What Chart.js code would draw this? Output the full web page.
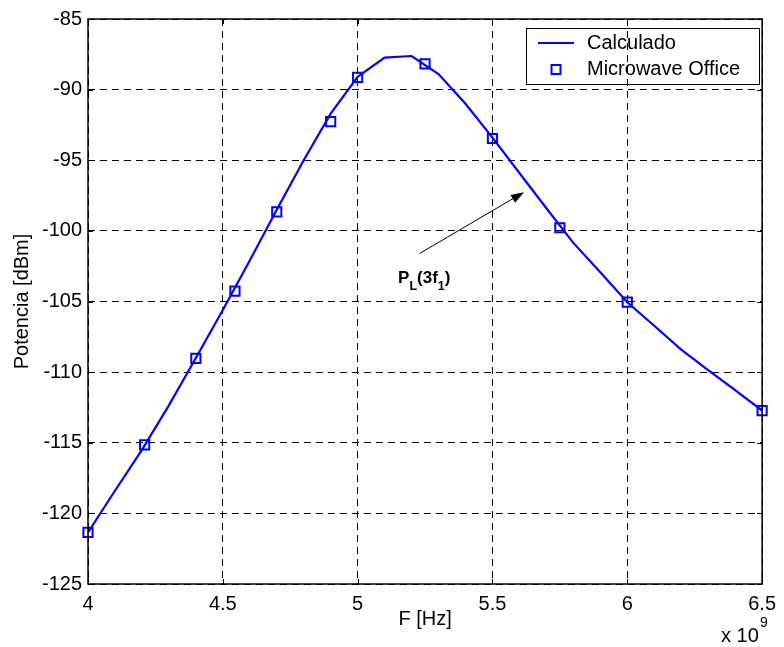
<!DOCTYPE html>
<html>
<head>
<meta charset="utf-8">
<script src="https://cdn.jsdelivr.net/npm/chart.js@4.4.1/dist/chart.umd.min.js"></script>
<style>
  body { margin: 0; background: #fff; }
  canvas { display: block; }
</style>
</head>
<body>
<canvas id="myChart" width="784" height="647"></canvas>
<script>
// calculated curve, sampled every 0.1 (x 10^9 Hz)
const freqCalc = [4.0, 4.1, 4.2, 4.3, 4.4, 4.5, 4.6, 4.7, 4.8, 4.9, 5.0, 5.1, 5.2,
                  5.3, 5.4, 5.5, 5.6, 5.7, 5.8, 5.9, 6.0, 6.1, 6.2, 6.3, 6.4, 6.5];
const potCalc = [-121.35, -118.4, -115.5, -112.35, -109.0, -105.6, -102.1, -98.5,
                 -95.0, -91.7, -89.1, -87.73, -87.62, -88.9, -91.0, -93.4, -95.9,
                 -98.4, -100.85, -102.93, -105.05, -106.72, -108.4, -109.85, -111.28, -112.72];

// Microwave Office simulation points
const freqMwo = [4.0, 4.21, 4.4, 4.545, 4.7, 4.9, 5.0, 5.25, 5.5, 5.75, 6.0, 6.5];
const potMwo = [-121.35, -115.15, -109.02, -104.27, -98.66, -92.27, -89.13, -88.18,
                -93.46, -99.78, -105.05, -112.72];

const xTicks = [4, 4.5, 5, 5.5, 6, 6.5];
const xTickLabels = ['4', '4.5', '5', '5.5', '6', '6.5'];
const yTicks = [-125, -120, -115, -110, -105, -100, -95, -90, -85];

// arrow for the P_L(3f_1) note, in data units
const arrowTail = [5.23, -101.6];
const arrowTip = [5.617, -97.26];
const noteAt = [5.15, -103.7];

const FONT = '"Liberation Sans", Arial, sans-serif';
const BLUE = '#0000ff';

const calcPoints = freqCalc.map((f, i) => ({ x: f, y: potCalc[i] }));
const mwoPoints = freqMwo.map((f, i) => ({ x: f, y: potMwo[i] }));

const decor = {
  id: 'decor',
  afterDraw(chart) {
    const ctx = chart.ctx;
    const a = chart.chartArea;
    const sx = chart.scales.x, sy = chart.scales.y;
    ctx.save();

    // box around the axes
    ctx.strokeStyle = '#000';
    ctx.lineWidth = 1.5;
    ctx.setLineDash([]);
    ctx.strokeRect(a.left, a.top, a.right - a.left, a.bottom - a.top);

    // small inward ticks on all four sides
    ctx.lineWidth = 1;
    ctx.beginPath();
    xTicks.forEach(v => {
      const px = Math.round(sx.getPixelForValue(v)) + 0.5;
      ctx.moveTo(px, a.bottom); ctx.lineTo(px, a.bottom - 5);
      ctx.moveTo(px, a.top); ctx.lineTo(px, a.top + 5);
    });
    yTicks.forEach(v => {
      const py = Math.round(sy.getPixelForValue(v)) + 0.5;
      ctx.moveTo(a.left, py); ctx.lineTo(a.left + 5, py);
      ctx.moveTo(a.right, py); ctx.lineTo(a.right - 5, py);
    });
    ctx.stroke();

    // axis titles
    ctx.fillStyle = '#000';
    ctx.font = '20px ' + FONT;
    ctx.textAlign = 'center';
    ctx.textBaseline = 'middle';
    ctx.fillText('F [Hz]', (a.left + a.right) / 2, 619);
    ctx.save();
    ctx.translate(22, (a.top + a.bottom) / 2);
    ctx.rotate(-Math.PI / 2);
    ctx.fillText('Potencia [dBm]', 0, 0);
    ctx.restore();

    // exponent of the x axis
    ctx.textAlign = 'left';
    ctx.fillText('x 10', 721, 636);
    ctx.font = '14px ' + FONT;
    ctx.fillText('9', 760, 623);

    // legend
    ctx.lineWidth = 1;
    ctx.strokeStyle = '#000';
    ctx.strokeRect(526.5, 28.5, 233, 56);
    ctx.strokeStyle = BLUE;
    ctx.lineWidth = 2;
    ctx.beginPath();
    ctx.moveTo(538, 43); ctx.lineTo(574, 43);
    ctx.stroke();
    ctx.strokeRect(551.5, 65, 9, 9);
    ctx.fillStyle = '#000';
    ctx.font = '20px ' + FONT;
    ctx.fillText('Calculado', 587, 43);
    ctx.fillText('Microwave Office', 587, 69.5);

    // arrow pointing at the curve
    const tx = sx.getPixelForValue(arrowTail[0]), ty = sy.getPixelForValue(arrowTail[1]);
    const hx = sx.getPixelForValue(arrowTip[0]), hy = sy.getPixelForValue(arrowTip[1]);
    const ang = Math.atan2(hy - ty, hx - tx);
    ctx.strokeStyle = '#000';
    ctx.lineWidth = 1;
    ctx.beginPath();
    ctx.moveTo(tx, ty);
    ctx.lineTo(hx - 10 * Math.cos(ang), hy - 10 * Math.sin(ang));
    ctx.stroke();
    ctx.beginPath();
    ctx.moveTo(hx, hy);
    ctx.lineTo(hx - 13 * Math.cos(ang) + 4.5 * Math.sin(ang), hy - 13 * Math.sin(ang) - 4.5 * Math.cos(ang));
    ctx.lineTo(hx - 13 * Math.cos(ang) - 4.5 * Math.sin(ang), hy - 13 * Math.sin(ang) + 4.5 * Math.cos(ang));
    ctx.closePath();
    ctx.fill();

    // P_L(3f_1) label with subscripts
    let nx = sx.getPixelForValue(noteAt[0]);
    const ny = sy.getPixelForValue(noteAt[1]);
    ctx.textBaseline = 'alphabetic';
    const parts = [['P', 0, 17], ['L', 7, 12.5], ['(3f', 0, 17], ['1', 7, 12.5], [')', 0, 17]];
    parts.forEach(([t, dy, size]) => {
      ctx.font = 'bold ' + size + 'px ' + FONT;
      ctx.fillText(t, nx, ny + dy);
      nx += ctx.measureText(t).width;
    });

    ctx.restore();
  }
};

var ctx = document.getElementById('myChart').getContext('2d');

var chart = new Chart(ctx, {
  type: 'scatter',
  data: {
    datasets: [{
      label: 'Microwave Office',
      data: mwoPoints,
      showLine: false,
      pointStyle: 'rect',
      pointRadius: 6.5,
      pointHoverRadius: 6.5,
      pointBorderWidth: 2,
      pointBorderColor: BLUE,
      pointBackgroundColor: 'rgba(0,0,0,0)',
      clip: false,
      order: 0
    }, {
      type: 'line',
      label: 'Calculado',
      data: calcPoints,
      borderColor: BLUE,
      borderWidth: 2.2,
      pointRadius: 0,
      tension: 0,
      fill: false,
      order: 1
    }]
  },
  options: {
    responsive: false,
    animation: false,
    devicePixelRatio: 1,
    layout: {
      padding: { top: 19, right: 17, left: 0, bottom: 0 }
    },
    plugins: {
      legend: { display: false },
      tooltip: { enabled: false }
    },
    scales: {
      x: {
        type: 'linear',
        min: 4,
        max: 6.5,
        afterFit(scale) { scale.height = 63; },
        afterBuildTicks(scale) { scale.ticks = xTicks.map(v => ({ value: v })); },
        ticks: {
          color: '#000',
          font: { family: FONT, size: 20 },
          padding: 8,
          maxRotation: 0,
          callback: (v) => xTickLabels[xTicks.indexOf(v)] ?? String(v)
        },
        grid: { color: '#000', lineWidth: 1, drawTicks: false },
        border: { display: false, dash: [7, 5] }
      },
      y: {
        type: 'linear',
        min: -125,
        max: -85,
        afterFit(scale) { scale.width = 88; },
        afterBuildTicks(scale) { scale.ticks = yTicks.map(v => ({ value: v })); },
        ticks: {
          color: '#000',
          font: { family: FONT, size: 20 },
          padding: 6
        },
        grid: { color: '#000', lineWidth: 1, drawTicks: false },
        border: { display: false, dash: [7, 5] }
      }
    }
  },
  plugins: [decor]
});
</script>
</body>
</html>
